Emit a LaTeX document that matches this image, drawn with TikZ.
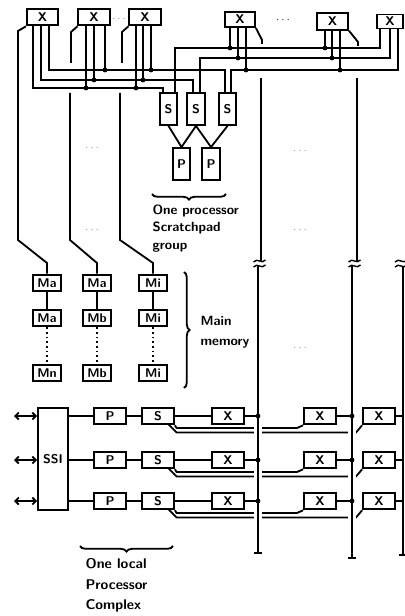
\documentclass[tikz,border=0pt]{standalone}
\usetikzlibrary{arrows.meta,decorations.pathreplacing}
\begin{document}
\begin{tikzpicture}[x=0.025cm, y=-0.025cm, line width=1.3pt,
    >={Straight Barb[length=2.5pt,width=5pt]},
    box/.style={draw, inner sep=0pt, font=\sffamily\bfseries\fontsize{9}{10}\selectfont},
    xsw/.style={box, minimum width=0.78cm, minimum height=0.42cm},
    tall/.style={box, minimum width=0.44cm, minimum height=0.8cm},
    mem/.style={box, minimum width=0.7cm, minimum height=0.42cm},
    wide/.style={box, minimum width=0.8cm, minimum height=0.42cm},
    brace/.style={decorate, decoration={brace, amplitude=4pt}},
    more/.style={font=\scriptsize, text=gray},
    note/.style={align=left, font=\sffamily\bfseries\fontsize{9.5}{12.5}\selectfont}]
    \useasboundingbox (0,0) rectangle (405,616);

    % Top switches
    \node[xsw] (X1) at (42.5,17) {X};
    \node[xsw] (X2) at (94,17) {X};
    \node[xsw] (X3) at (145,17) {X};
    \node[xsw, minimum width=0.75cm, minimum height=0.38cm] (X4) at (240,19.5) {X};
    \node[xsw] (X5) at (332.5,21.5) {X};
    \node[xsw, minimum width=0.65cm, minimum height=0.35cm] (X6) at (390,21.5) {X};
    \node[more] at (119,19) {$\cdots$};
    \node[more, text=black] at (283,20) {$\cdots$};

    % Scratchpad group
    \node[tall] (S1) at (168.5,109) {S};
    \node[tall] (S2) at (196,109) {S};
    \node[tall] (S3) at (227.5,109) {S};
    \node[tall] (P1) at (181.5,164) {P};
    \node[tall] (P2) at (211,164) {P};
    \draw (S1.south) -- (P1.north) -- (S2.south) -- (P2.north) -- (S3.south);

    % Buses
    \draw (33,25) |- (163,88) -- (163,93);
    \draw (41,25) |- (193,80) -- (193,93);
    \draw (49,25) |- (225,70) -- (225,93);
    \draw (380,28) |- (175,48) -- (175,93);
    \draw (390,28) |- (200,58) -- (200,93);
    \draw (398,28) |- (231,70) -- (231,93);
    \foreach \x/\y/\t in {86/88/25, 94/80/25, 105/70/25, 136/88/25, 143/80/25, 151/70/25,
        230/48/27, 238/58/27, 246/70/27, 325/48/30, 332/58/30, 340/70/30} {
        \draw (\x,\t) -- (\x,\y);
        \fill (\x,\y) circle (1.7pt);
    }

    % Main memory
    \foreach \c/\x/\ta/\tb/\tc in {1/47/Ma/Ma/Mn, 2/97/Ma/Mb/Mb, 3/153/Mi/Mi/Mi} {
        \node[mem] (M\c1) at (\x,283) {\ta};
        \node[mem] (M\c2) at (\x,318) {\tb};
        \node[mem] (M\c3) at (\x,373) {\tc};
        \draw (M\c1) -- (M\c2);
        \draw[dotted] (M\c2) -- (M\c3);
    }
    \draw (X1.south west) -- (18,31) -- (18,240) -- (47,263) -- (M11.north);
    \draw (X2.south west) -- (71,32) -- (71,63);
    \draw (X3.south west) -- (122,32) -- (122,63);
    \draw (70,93) -- (70,240) -- (97,263) -- (M21.north);
    \draw (120,93) -- (120,240) -- (153,263) -- (M31.north);
    \draw (X4.south east) -- (262,40) -- (262,44);
    \draw (X5.south east) -- (358,42) -- (358,46);

    \foreach \x/\y in {92/148, 92/230, 300/151, 300/230, 300/348}
        \node[more] at (\x,\y) {$\cdots$};

    % Labels and braces
    \draw[brace] (226,194) -- (152,194);
    \node[note, anchor=north west] (grp) at (147,199) {One processor\\Scratchpad\\group};
    \draw[brace] (184,272) -- (184,388);
    \node[note, anchor=west, font=\sffamily\bfseries\fontsize{9.5}{14}\selectfont] (mm) at (195,332) {Main\\memory};

    % Local processor complexes
    \node[box, minimum width=0.75cm, minimum height=2.55cm] (SSI) at (53,459) {SSI};
    \coordinate (busA) at (258,300);
    \coordinate (busB) at (352,300);
    \coordinate (busC) at (403,300);
    \foreach \r/\y in {1/416, 2/460, 3/501} {
        \node[wide] (lp\r) at (110,\y) {P};
        \node[wide] (ls\r) at (158,\y) {S};
        \node[wide] (xa\r) at (228,\y) {X};
        \node[wide] (xb\r) at (320,\y) {X};
        \node[wide] (xc\r) at (379,\y) {X};
        \draw[<->] (14,\y) -- (SSI.west |- lp\r);
        \draw (SSI.east |- lp\r) -- (lp\r) -- (ls\r) -- (xa\r);
        \draw (ls\r.south east) -- (176.6,\y+12) -- (297,\y+12) -- (xb\r.south west);
        \draw (168.5,\y+8.4) -- (176.6,\y+16.5) -- (356,\y+16.5) -- (xc\r.south west);
    }

    % Long lines
    \draw (261,78) -- (261,262);
    \draw (357,78) -- (357,262);
    \draw[preaction={draw=white, line width=5pt}] (258,266) -- (258,553) +(-4,0) -- +(4,0);
    \draw[preaction={draw=white, line width=5pt}] (352,266) -- (352,558) +(-4,0) -- +(4,0);
    \draw (403,266) -- (403,555) +(-4,0) -- +(4,0);
    \foreach \x in {259.5, 354.5, 401} {
        \draw[line width=1pt] (\x-6,262) .. controls (\x-2,257) and (\x+2,265) .. (\x+6,260);
        \draw[line width=1pt] (\x-6,267) .. controls (\x-2,262) and (\x+2,270) .. (\x+6,265);
    }
    \foreach \r in {1,2,3} {
        \draw (xa\r) -- (xa\r -| busA);
        \fill (xa\r -| busA) circle (1.7pt);
        \draw (xb\r) -- (xb\r -| busB);
        \fill (xb\r -| busB) circle (1.7pt);
        \draw (xc\r) -- (xc\r -| busC);
    }

    \draw[brace] (173,546) -- (80,546);
    \node[note, anchor=north west, font=\sffamily\bfseries\fontsize{10}{14.5}\selectfont] (lpc) at (80,553) {One local\\Processor\\Complex};
\end{tikzpicture}
\end{document}
